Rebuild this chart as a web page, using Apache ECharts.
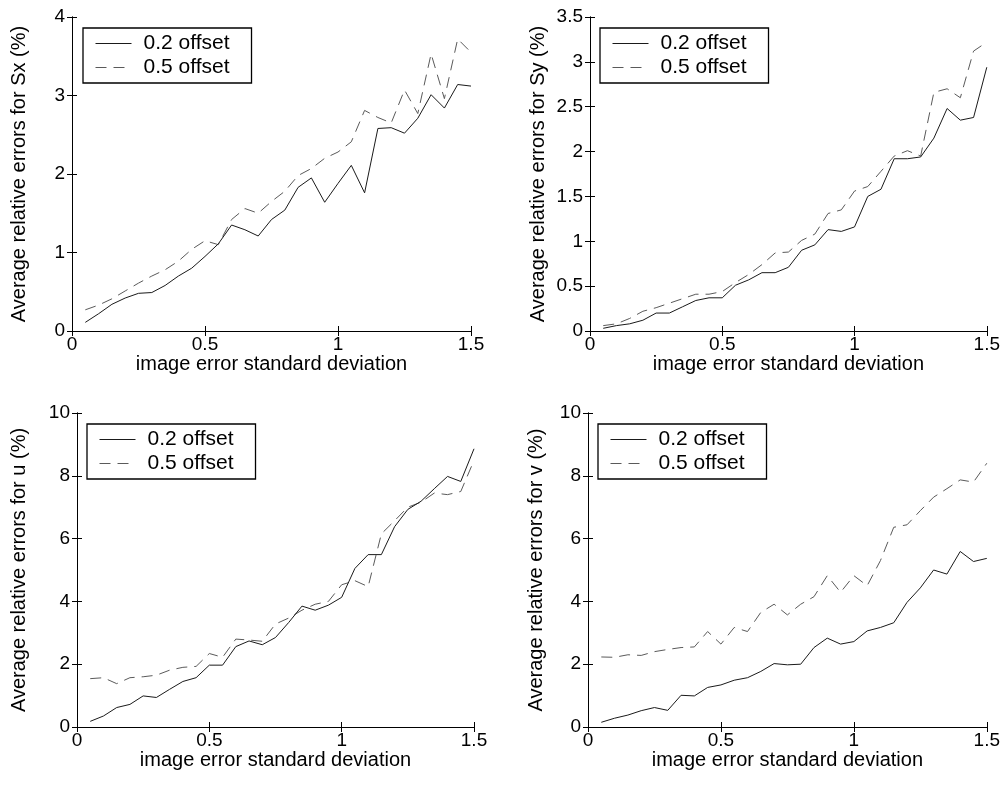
<!DOCTYPE html>
<html>
<head>
<meta charset="utf-8">
<script src="https://cdn.jsdelivr.net/npm/echarts@6/dist/echarts.min.js"></script>
<style>
html,body{margin:0;padding:0;background:#fff;}
#chart{width:1003px;height:789px;}
</style>
</head>
<body>
<div id="chart"></div>
<script>
// ---- data ----
const xValues = [0.05,0.1,0.15,0.2,0.25,0.3,0.35,0.4,0.45,0.5,0.55,0.6,0.65,0.7,0.75,0.8,0.85,0.9,0.95,1,1.05,1.1,1.15,1.2,1.25,1.3,1.35,1.4,1.45,1.5];
const seriesNames = ['0.2 offset', '0.5 offset'];

const sxOffset02 = [0.11,0.22,0.34,0.42,0.48,0.49,0.58,0.70,0.80,0.95,1.11,1.35,1.29,1.21,1.42,1.54,1.83,1.95,1.64,1.88,2.11,1.76,2.58,2.59,2.52,2.71,3.01,2.84,3.14,3.12];
const sxOffset05 = [0.27,0.33,0.41,0.51,0.61,0.70,0.78,0.89,1.04,1.15,1.10,1.42,1.56,1.50,1.65,1.78,1.98,2.07,2.20,2.28,2.41,2.81,2.72,2.65,3.07,2.77,3.53,2.96,3.72,3.55];

const syOffset02 = [0.03,0.06,0.08,0.12,0.20,0.20,0.27,0.34,0.37,0.37,0.51,0.57,0.65,0.65,0.71,0.90,0.96,1.13,1.11,1.16,1.50,1.58,1.92,1.92,1.94,2.15,2.48,2.35,2.38,2.94];
const syOffset05 = [0.06,0.08,0.14,0.22,0.26,0.31,0.36,0.41,0.41,0.44,0.54,0.63,0.74,0.87,0.88,1.01,1.08,1.31,1.35,1.56,1.61,1.78,1.95,2.01,1.95,2.66,2.70,2.60,3.12,3.22];

const uOffset02 = [0.18,0.35,0.62,0.72,0.99,0.94,1.20,1.45,1.57,1.97,1.97,2.56,2.74,2.62,2.85,3.33,3.85,3.72,3.88,4.13,5.05,5.49,5.49,6.38,6.93,7.19,7.59,7.98,7.82,8.86];
const uOffset05 = [1.54,1.57,1.38,1.57,1.60,1.65,1.81,1.90,1.93,2.34,2.22,2.80,2.77,2.73,3.28,3.47,3.72,3.91,4.00,4.53,4.66,4.47,6.15,6.57,7.00,7.16,7.45,7.40,7.50,8.49];

const vOffset02 = [0.15,0.28,0.38,0.52,0.62,0.53,1.01,0.99,1.26,1.34,1.49,1.57,1.77,2.02,1.98,2.00,2.53,2.83,2.64,2.72,3.06,3.17,3.32,3.97,4.43,5.00,4.87,5.59,5.27,5.37];
const vOffset05 = [2.23,2.22,2.30,2.28,2.40,2.47,2.53,2.55,3.04,2.64,3.17,3.04,3.65,3.91,3.57,3.91,4.15,4.82,4.29,4.82,4.50,5.30,6.36,6.44,6.89,7.32,7.59,7.87,7.80,8.40];

const xTitle = 'image error standard deviation';
const yTitles = ['Average relative errors for Sx (%)', 'Average relative errors for Sy (%)',
                 'Average relative errors for u (%)', 'Average relative errors for v (%)'];
const xRange = [0, 1.5, 0.5];
const yRanges = [[0, 4, 1], [0, 3.5, 0.5], [0, 10, 2], [0, 10, 2]];
const panelData = [[sxOffset02, sxOffset05], [syOffset02, syOffset05], [uOffset02, uOffset05], [vOffset02, vOffset05]];

// ---- layout ----
const FONT = "'Liberation Sans', Arial, Helvetica, sans-serif";
const grids = [
  {left: 72, top: 17, width: 399, height: 314},
  {left: 590, top: 17, width: 398, height: 314},
  {left: 77, top: 413, width: 397, height: 314},
  {left: 588, top: 413, width: 399, height: 314}
];
const yNameGaps = [43, 42, 48, 42];
const legendPos = [
  {left: 83, top: 28},
  {left: 600, top: 28},
  {left: 87, top: 424},
  {left: 598, top: 424}
];

const xAxes = [], yAxes = [], series = [], legends = [];
const tickStyle = {show: true, inside: true, length: 5, lineStyle: {color: '#000', width: 1}};
const lineStyleAxis = {show: true, lineStyle: {color: '#000', width: 1}};

grids.forEach((g, i) => {
  const yr = yRanges[i];
  xAxes.push({
    type: 'value', gridIndex: i, position: 'bottom', min: xRange[0], max: xRange[1], interval: xRange[2],
    axisLine: lineStyleAxis, axisTick: tickStyle, splitLine: {show: false},
    axisLabel: {color: '#000', fontSize: 19, fontFamily: FONT, margin: 4},
    name: xTitle, nameLocation: 'middle', nameGap: 19,
    nameTextStyle: {color: '#000', fontSize: 20, fontFamily: FONT}
  });
  xAxes.push({
    type: 'value', gridIndex: i, position: 'top', min: xRange[0], max: xRange[1], interval: xRange[2],
    axisLine: lineStyleAxis, axisTick: tickStyle, splitLine: {show: false}, axisLabel: {show: false}
  });
  yAxes.push({
    type: 'value', gridIndex: i, position: 'left', min: yr[0], max: yr[1], interval: yr[2],
    axisLine: lineStyleAxis, axisTick: tickStyle, splitLine: {show: false},
    axisLabel: {color: '#000', fontSize: 19, fontFamily: FONT, margin: 7},
    name: yTitles[i], nameLocation: 'middle', nameGap: yNameGaps[i], nameRotate: 90,
    nameTextStyle: {color: '#000', fontSize: 20, fontFamily: FONT}
  });
  yAxes.push({
    type: 'value', gridIndex: i, position: 'right', min: yr[0], max: yr[1], interval: yr[2],
    axisLine: lineStyleAxis, axisTick: tickStyle, splitLine: {show: false}, axisLabel: {show: false}
  });
  const [a, b] = panelData[i];
  series.push({
    name: seriesNames[0], type: 'line', xAxisIndex: 2 * i, yAxisIndex: 2 * i,
    data: xValues.map((x, k) => [x, a[k]]), symbol: 'none', showSymbol: false,
    lineStyle: {color: '#1a1a1a', width: 1}, itemStyle: {color: '#1a1a1a'}, z: 3
  });
  series.push({
    name: seriesNames[1], type: 'line', xAxisIndex: 2 * i, yAxisIndex: 2 * i,
    data: xValues.map((x, k) => [x, b[k]]), symbol: 'none', showSymbol: false,
    lineStyle: {color: '#5a5a5a', width: 1, type: [11, 7]}, itemStyle: {color: '#5a5a5a'}, z: 2
  });
  legends.push({
    data: seriesNames, left: legendPos[i].left, top: legendPos[i].top, orient: 'vertical',
    itemWidth: 36, itemHeight: 14, itemGap: 3,
    padding: [5, 22, 5, 12], borderColor: '#000', borderWidth: 1.3, backgroundColor: '#fff',
    selectedMode: false, z: 10,
    itemStyle: {opacity: 0},
    lineStyle: {width: 1},
    textStyle: {color: '#000', fontSize: 21, fontFamily: FONT, lineHeight: 20, padding: [0, 0, 0, 7]}
  });
});

const chart = echarts.init(document.getElementById('chart'), null, {renderer: 'canvas'});
chart.setOption({
  animation: false,
  backgroundColor: '#fff',
  grid: grids,
  xAxis: xAxes,
  yAxis: yAxes,
  legend: legends,
  series: series
});
</script>
</body>
</html>
